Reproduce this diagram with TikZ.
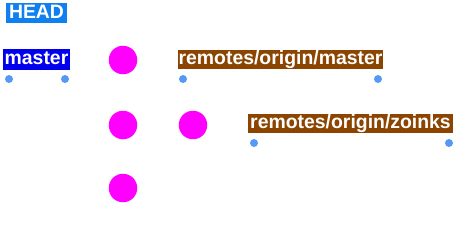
\documentclass[tikz,border=0pt]{standalone}
\usepackage{fontspec}
\setmainfont{Liberation Sans}
\definecolor{headblue}{RGB}{16,128,240}
\definecolor{masterblue}{RGB}{0,0,238}
\definecolor{remotebrown}{RGB}{139,69,0}
\definecolor{dotblue}{RGB}{85,153,245}
\definecolor{commitmag}{RGB}{255,0,255}
\tikzset{
  refbox/.style={inner sep=0pt, text=white, font=\fontsize{19.4}{21}\selectfont\bfseries,
    text height=14pt, text depth=4pt, anchor=center},
  refdot/.style={circle, fill=dotblue, inner sep=0pt, minimum size=8pt},
  commit/.style={circle, fill=commitmag, inner sep=0pt, minimum size=28.5pt},
}
\begin{document}
\begin{tikzpicture}[x=1pt,y=-1pt]
\useasboundingbox (0,0) rectangle (458,234);
\node[refbox, fill=headblue, minimum width=61pt, minimum height=20pt] (head) at (36.5,13) {HEAD};
\node[refbox, fill=masterblue, minimum width=67pt, minimum height=21pt] (master) at (36.5,59.5) {master};
\node[refbox, fill=remotebrown, minimum width=205pt, minimum height=19pt] (rom) at (280.5,59.5) {remotes/origin/master};
\node[refbox, fill=remotebrown, minimum width=205pt, minimum height=19pt] (roz) at (350.5,123.5) {remotes/origin/zoinks};
\node[refdot] (m1) at (9,79) {};
\node[refdot] (m2) at (65,79) {};
\node[refdot] (r1) at (183,79) {};
\node[refdot] (r2) at (378,79) {};
\node[refdot] (z1) at (254,143) {};
\node[refdot] (z2) at (449,143) {};
\node[commit] (c1) at (123,60) {};
\node[commit] (c2) at (123,125) {};
\node[commit] (c3) at (193,125) {};
\node[commit] (c4) at (123,188) {};
\end{tikzpicture}
\end{document}
